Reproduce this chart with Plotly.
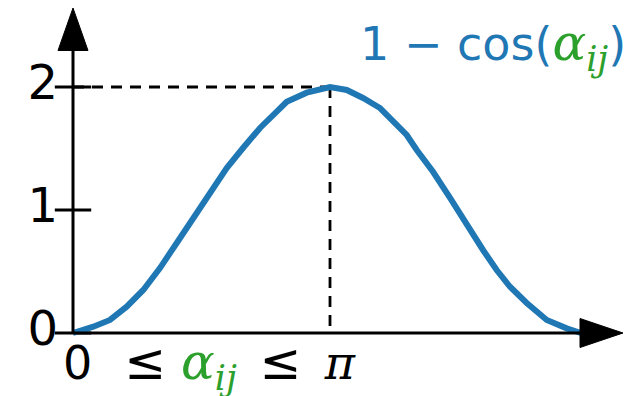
import math
import plotly.graph_objects as go

# Sampled curve: angle (rad) and 1 - cos(angle)
alpha = [0.0, 0.248, 0.452, 0.656, 0.859, 1.063, 1.268, 1.471, 1.675, 1.879,
         2.078, 2.286, 2.490, 2.612, 2.857, 3.101, 3.142, 3.346, 3.545, 3.753,
         3.912, 4.079, 4.202, 4.401, 4.609, 4.813, 5.012, 5.179, 5.342, 5.546,
         5.791, 6.035, 6.218]
value = [0.0, 0.051, 0.106, 0.214, 0.350, 0.528, 0.732, 0.935, 1.138, 1.341,
         1.504, 1.667, 1.799, 1.880, 1.954, 1.998, 2.0, 1.976, 1.911, 1.829,
         1.718, 1.610, 1.488, 1.311, 1.098, 0.878, 0.675, 0.512, 0.376, 0.244,
         0.106, 0.038, -0.002]

y_ticks = [0, 1, 2]
y_tick_text = ["0", "1", "2"]
peak_x = math.pi
peak_y = 2

W, H = 639, 396
ORIGIN_PX = (73, 333)
PX_PER_PI = 257.0
PX_PER_UNIT = 123.0


def dx(px):
    return (px - ORIGIN_PX[0]) * math.pi / PX_PER_PI


def dy(py):
    return (ORIGIN_PX[1] - py) / PX_PER_UNIT


BLUE = "#1f77b4"
GREEN = "#2ca02c"
SANS = "DejaVu Sans"
SERIF = "DejaVu Serif"

fig = go.Figure()

# dashed guides to the maximum
fig.add_trace(go.Scatter(x=[0, peak_x], y=[peak_y, peak_y], mode="lines",
                         line=dict(color="black", width=2.8, dash="11px,8px"),
                         hoverinfo="skip"))
fig.add_trace(go.Scatter(x=[peak_x, peak_x], y=[peak_y, 0], mode="lines",
                         line=dict(color="black", width=2.8, dash="11px,8px"),
                         hoverinfo="skip"))

# axes with arrow heads
shapes = [
    dict(type="line", x0=0, y0=0, x1=dx(600), y1=0,
         line=dict(color="black", width=3)),
    dict(type="line", x0=0, y0=0, x1=0, y1=dy(30),
         line=dict(color="black", width=3)),
    dict(type="path",
         path=f"M {dx(580)},{dy(318.5)} L {dx(623)},{dy(333)} L {dx(580)},{dy(347.5)} Z",
         fillcolor="black", line=dict(color="black", width=1)),
    dict(type="path",
         path=f"M {dx(58)},{dy(50.5)} L {dx(73)},{dy(8)} L {dx(88)},{dy(50.5)} Z",
         fillcolor="black", line=dict(color="black", width=1)),
]

# y tick marks crossing the axis
fig.add_trace(go.Scatter(x=[0] * len(y_ticks), y=y_ticks, mode="markers",
                         marker=dict(symbol="line-ew", size=26,
                                     line=dict(color="black", width=3)),
                         cliponaxis=False, hoverinfo="skip"))
# y tick labels
fig.add_trace(go.Scatter(x=[dx(58)] * len(y_ticks), y=y_ticks,
                         mode="text",
                         text=y_tick_text, textposition="middle left",
                         textfont=dict(family=SANS, size=48, color="black"),
                         cliponaxis=False, hoverinfo="skip"))

# the curve
fig.add_trace(go.Scatter(x=alpha, y=value, mode="lines",
                         line=dict(color=BLUE, width=6),
                         cliponaxis=False, hoverinfo="skip"))

alpha_ij = (f"<span style='font-family:{SERIF};color:{GREEN};font-size:50px'>"
            "<i>α<sub>ij</sub></i></span>")
leq = "<span style='font-size:50px'>≤</span>"

annotations = [
    dict(x=dx(358), y=dy(46), xref="x", yref="y", xanchor="left", yanchor="middle",
         showarrow=False,
         text=f"1 − cos({alpha_ij})",
         font=dict(family=SANS, size=46, color=BLUE)),
    dict(x=dx(61), y=dy(365), xref="x", yref="y", xanchor="left", yanchor="middle",
         showarrow=False,
         text=(f"0\u2002\u2009{leq} {alpha_ij}\u2002{leq}\u2002"
               f"<span style='font-family:{SERIF}'><i>π</i></span>"),
         font=dict(family=SANS, size=46, color="black")),
]

fig.update_layout(
    width=W, height=H,
    margin=dict(l=0, r=0, t=0, b=0),
    paper_bgcolor="white", plot_bgcolor="white",
    showlegend=False,
    xaxis=dict(visible=False, range=[dx(0), dx(W)], fixedrange=True),
    yaxis=dict(visible=False, range=[dy(H), dy(0)], fixedrange=True),
    shapes=shapes,
    annotations=annotations,
)

fig.write_html("out.html")
